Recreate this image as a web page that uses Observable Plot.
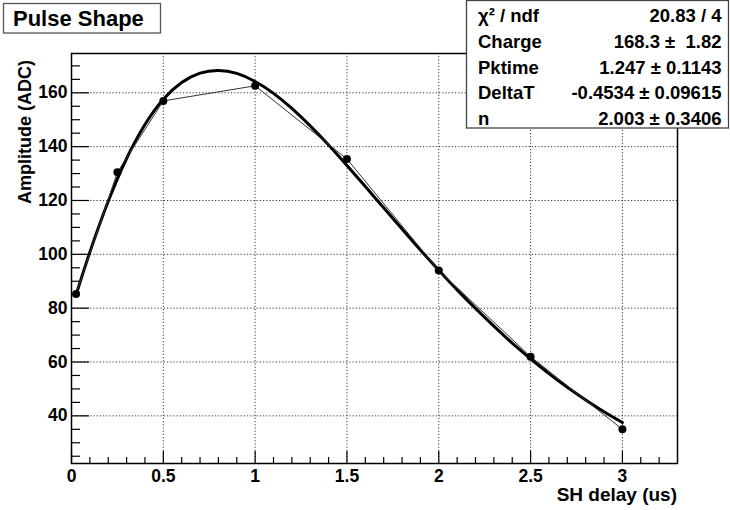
<!DOCTYPE html>
<html>
<head>
<meta charset="utf-8">
<script src="https://cdn.jsdelivr.net/npm/d3@7"></script>
<script src="https://cdn.jsdelivr.net/npm/@observablehq/plot@0.6"></script>
<style>
  body { margin: 0; background: #fff; }
  #chart { width: 730px; height: 510px; }
</style>
</head>
<body>
<div id="chart"></div>
<script>
// Measured data points (SH delay in us, amplitude in ADC)
const ptX = [0.025, 0.25, 0.5, 1.0, 1.5, 2.0, 2.5, 3.0];
const ptY = [85.3, 130.5, 157.0, 162.6, 135.4, 94.0, 62.0, 35.0];

// Fitted pulse curve
const fitX = [0.025, 0.1, 0.2, 0.3, 0.4, 0.5, 0.6, 0.7, 0.8, 0.9, 1.0, 1.1, 1.2, 1.3, 1.4, 1.5,
              1.6, 1.7, 1.8, 1.9, 2.0, 2.1, 2.2, 2.3, 2.4, 2.5, 2.6, 2.7, 2.8, 2.9, 3.0];
const fitY = [85.0, 100.8, 119.7, 135.6, 148.2, 157.6, 163.8, 167.3, 168.3, 167.2, 164.2, 159.8,
              154.2, 147.7, 140.6, 133.0, 125.2, 117.3, 109.4, 101.6, 94.1, 86.8, 79.9, 73.3,
              67.0, 61.2, 55.7, 50.6, 45.9, 41.5, 37.5];

// Axis ticks
const xMajor = [0, 0.5, 1, 1.5, 2, 2.5, 3];
const xMinor = [0.1,0.2,0.3,0.4,0.6,0.7,0.8,0.9,1.1,1.2,1.3,1.4,1.6,1.7,1.8,1.9,2.1,2.2,2.3,2.4,2.6,2.7,2.8,2.9,3.1,3.2];
const yMajor = [40, 60, 80, 100, 120, 140, 160];
const yMinor = [25,30,35,45,50,55,65,70,75,85,90,95,105,110,115,125,130,135,145,150,155,165,170];

// Text
const titleText = "Pulse Shape";
const xLabel = "SH delay (us)";
const yLabel = "Amplitude (ADC)";
const statNames = ["χ² / ndf", "Charge", "Pktime", "DeltaT", "n"];
const statValues = ["20.83 / 4", "168.3 \u00B1  1.82", "1.247 \u00B1 0.1143", "-0.4534 \u00B1 0.09615", "2.003 \u00B1 0.3406"];

const points = ptX.map((x, i) => ({x, y: ptY[i]}));
const fit = fitX.map((x, i) => ({x, y: fitY[i]}));

const W = 730, H = 510, mL = 71, mR = 53, mT = 53, mB = 47;
const innerW = W - mL - mR, innerH = H - mT - mB;
const FONT = "'Liberation Sans', Arial, Helvetica, sans-serif";

const chart = Plot.plot({
  width: W, height: H,
  marginLeft: mL, marginRight: mR, marginTop: mT, marginBottom: mB,
  style: {fontFamily: FONT, fontSize: "17.5px", fontWeight: "bold", background: "#fff", color: "#000"},
  x: {domain: [0, 3.3]},
  y: {domain: [22.3, 174.6]},
  marks: [
    Plot.gridX(xMajor, {stroke: "#333", strokeOpacity: 1, strokeWidth: 1, strokeDasharray: "1.2,2"}),
    Plot.gridY(yMajor, {stroke: "#333", strokeOpacity: 1, strokeWidth: 1, strokeDasharray: "1.2,2"}),
    Plot.ruleX(xMinor, {x: d => d, insetTop: innerH - 6, stroke: "#000", strokeWidth: 1.2}),
    Plot.ruleX(xMajor, {x: d => d, insetTop: innerH - 12, stroke: "#000", strokeWidth: 1.2}),
    Plot.ruleY(yMinor, {y: d => d, insetRight: innerW - 9, stroke: "#000", strokeWidth: 1.2}),
    Plot.ruleY(yMajor, {y: d => d, insetRight: innerW - 18, stroke: "#000", strokeWidth: 1.2}),
    Plot.axisX(xMajor, {tickSize: 0, tickPadding: 6, tickFormat: d => String(d), label: null, fontSize: 17.5, fontWeight: "bold"}),
    Plot.axisY(yMajor, {tickSize: 0, tickPadding: 4, tickFormat: d => String(d), label: null, fontSize: 17.5, fontWeight: "bold"}),
    Plot.line(fit, {x: "x", y: "y", stroke: "#000", strokeWidth: 3, curve: "natural"}),
    Plot.line(points, {x: "x", y: "y", stroke: "#333", strokeWidth: 1}),
    Plot.dot(points, {x: "x", y: "y", r: 4, fill: "#000", stroke: "none"}),
    Plot.frame({stroke: "#000", strokeWidth: 1.5})
  ]
});

document.getElementById("chart").appendChild(chart);

const svg = d3.select(chart);

// Axis titles
svg.append("text")
  .attr("transform", `translate(31,${mT + 7}) rotate(-90)`)
  .attr("text-anchor", "end")
  .attr("font-family", FONT).attr("font-weight", "bold").attr("font-size", 18)
  .attr("fill", "#000")
  .text(yLabel);

svg.append("text")
  .attr("x", W - mR).attr("y", 501)
  .attr("text-anchor", "end")
  .attr("font-family", FONT).attr("font-weight", "bold").attr("font-size", 19)
  .attr("fill", "#000")
  .text(xLabel);

// Title box
const tg = svg.append("g");
tg.append("rect").attr("x", 3.5).attr("y", 3.5).attr("width", 157).attr("height", 29.5)
  .attr("fill", "#fff").attr("stroke", "#555").attr("stroke-width", 1.3);
tg.append("text").attr("x", 13).attr("y", 26).attr("text-anchor", "start")
  .attr("font-family", FONT).attr("font-weight", "bold").attr("font-size", 22)
  .attr("fill", "#000").text(titleText);

// Stats box
const sg = svg.append("g");
sg.append("rect").attr("x", 466.5).attr("y", 0.5).attr("width", 262).attr("height", 127.5)
  .attr("fill", "#fff").attr("stroke", "#444").attr("stroke-width", 1.3);
const baselines = [22, 48, 73.5, 99, 124.5];
statNames.forEach((n, i) => {
  sg.append("text").attr("x", 478).attr("y", baselines[i]).attr("text-anchor", "start")
    .attr("font-family", FONT).attr("font-weight", "bold").attr("font-size", 18.5)
    .attr("fill", "#000").text(n);
  sg.append("text").attr("x", 721.5).attr("y", baselines[i])
    .attr("text-anchor", "end")
    .attr("font-family", FONT).attr("font-weight", "bold").attr("font-size", 18.5)
    .attr("fill", "#000").style("white-space", "pre").text(statValues[i]);
});
</script>
</body>
</html>
